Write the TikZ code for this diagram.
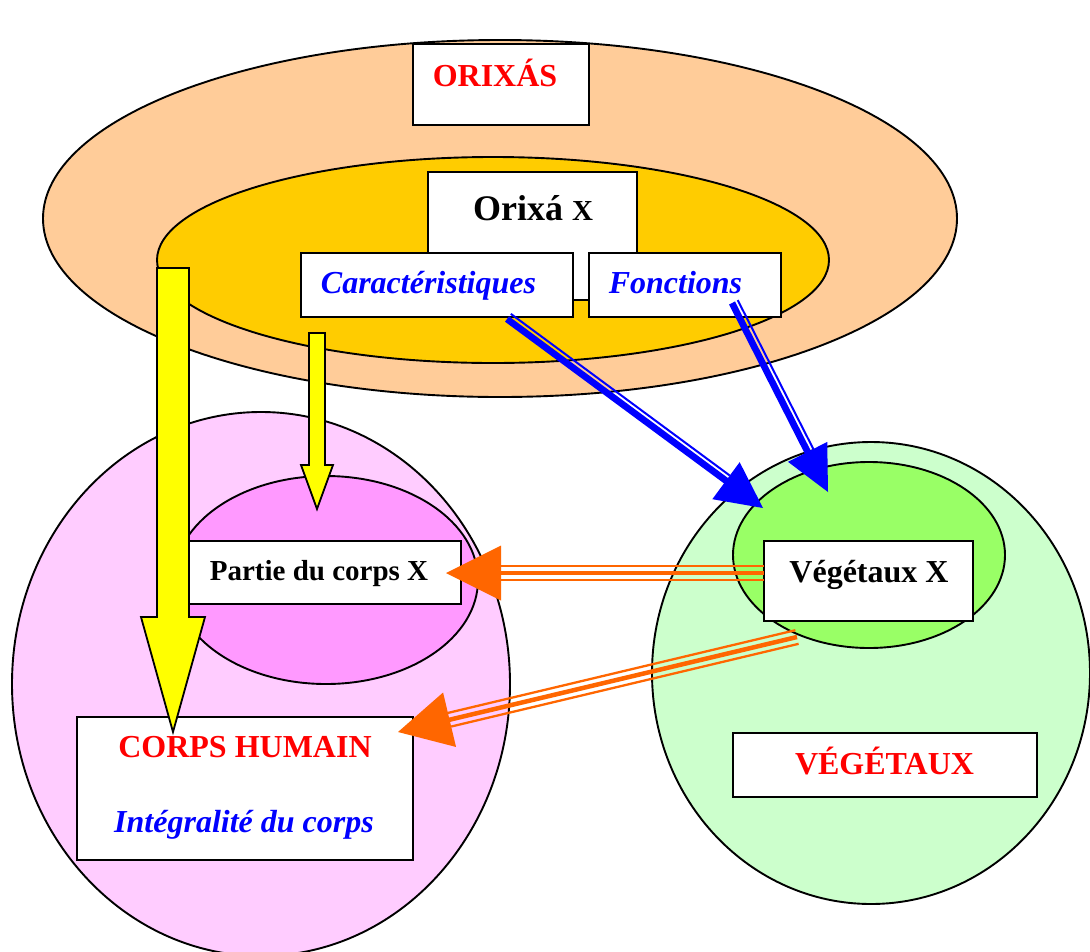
\documentclass[tikz,border=0pt]{standalone}
\usepackage{fontspec}
\setmainfont{Liberation Serif}
\usetikzlibrary{shapes.geometric,calc}
\definecolor{peach}{HTML}{FFCC99}
\definecolor{gold}{HTML}{FFCC00}
\definecolor{pinkbig}{HTML}{FFCCFF}
\definecolor{pinkin}{HTML}{FF99FF}
\definecolor{greenbig}{HTML}{CCFFCC}
\definecolor{greenin}{HTML}{99FF66}
\definecolor{yel}{HTML}{FFFF00}
\definecolor{bl}{HTML}{0000FF}
\definecolor{org}{HTML}{FF6600}
\definecolor{rd}{HTML}{FF0000}
\begin{document}
\begin{tikzpicture}[x=1pt,y=-1pt,
  ell/.style={ellipse, draw=black, line width=1.9pt, inner sep=0pt, outer sep=0pt},
  box/.style={rectangle, draw=black, line width=2.2pt, fill=white, inner sep=0pt, outer sep=0pt},
  txt/.style={anchor=base, inner sep=0pt, font=\bfseries\fontsize{32}{36}\selectfont},
  itxt/.style={txt, font=\bfseries\itshape\fontsize{32}{36}\selectfont, text=bl},
  yarr/.style={draw=black, fill=yel, line width=1.8pt, line join=miter},
  bluethick/.style={draw=bl, line width=6.7pt, line cap=butt},
  bluethin/.style={draw=bl, line width=2pt, line cap=butt},
  orgthick/.style={draw=org, line width=4.5pt, line cap=butt},
  orgthin/.style={draw=org, line width=2.3pt, line cap=butt}
]
\useasboundingbox (0,0) rectangle (1090,951);
\fill[white] (0,0) rectangle (1090,951);
\clip (0,0) rectangle (1090,951);

% ellipses (top)
\node[ell, fill=peach, minimum width=914pt, minimum height=357pt] (peach) at (500,218.5) {};
\node[ell, fill=gold, minimum width=672pt, minimum height=206pt] (goldell) at (493,260) {};

% top boxes
\node[box, minimum width=209pt, minimum height=128pt] (orixabox) at (532.5,236) {};
\node[box, minimum width=272pt, minimum height=64pt] (carbox) at (437,285) {};
\node[box, minimum width=192pt, minimum height=64pt] (fonbox) at (685,285) {};
\node[box, minimum width=176pt, minimum height=81pt] (orixasbox) at (501,84.5) {};

% lower ellipses
\node[ell, fill=pinkbig, minimum width=498pt, minimum height=544pt] (pinkbigell) at (261,684) {};
\node[ell, fill=pinkin, minimum width=304pt, minimum height=208pt] (pinkinell) at (326,580) {};
\node[ell, fill=greenbig, minimum width=438pt, minimum height=462pt] (greenbigell) at (871,673) {};
\node[ell, fill=greenin, minimum width=272pt, minimum height=186pt] (greeninell) at (869,555) {};

% lower boxes
\node[box, minimum width=273pt, minimum height=63pt] (partiebox) at (324.5,572.5) {};
\node[box, minimum width=209pt, minimum height=80pt] (vegxbox) at (868.5,581) {};
\node[box, minimum width=304pt, minimum height=64pt] (vegbox) at (885,765) {};
\node[box, minimum width=336pt, minimum height=143pt] (corpsbox) at (245,788.5) {};

% texts
\node[txt, text=rd] (orixast) at (495,86) {ORIXÁS};
\node[txt, font=\bfseries\fontsize{36}{40}\selectfont] (orixat) at (533,220) {Orixá {\fontsize{29}{32}\selectfont X}};
\node[itxt] (cart) at (428.5,293) {Caractéristiques};
\node[itxt] (font) at (675.5,293) {Fonctions};
\node[txt, font=\bfseries\fontsize{29}{32}\selectfont] (partiet) at (319,580) {Partie du corps X};
\node[txt] (vegxt) at (869,582) {Végétaux X};
\node[txt, text=rd] (vegt) at (884.5,774) {VÉGÉTAUX};
\node[txt, text=rd] (corpst) at (245,757) {CORPS HUMAIN};
\node[itxt] (integt) at (244,832) {Intégralité du corps};

% yellow arrows
\coordinate (y1s) at (173,268);
\coordinate (y1t) at (173,732);
\draw[yarr] ($(y1s)+(-16,0)$) -- ($(y1s)+(16,0)$) -- ($(y1t)+(16,-115)$) -- ($(y1t)+(32,-115)$)
  -- (y1t) -- ($(y1t)+(-32,-115)$) -- ($(y1t)+(-16,-115)$) -- cycle;
\coordinate (y2s) at (317,333);
\coordinate (y2t) at (317,509);
\draw[yarr] ($(y2s)+(-8,0)$) -- ($(y2s)+(8,0)$) -- ($(y2t)+(8,-44)$) -- ($(y2t)+(16,-44)$)
  -- (y2t) -- ($(y2t)+(-16,-44)$) -- ($(y2t)+(-8,-44)$) -- cycle;

% blue arrows
\coordinate (b1s) at (507,319);
\coordinate (b1t) at (763,508);
\coordinate (b1b) at ($(b1t)!46pt!(b1s)$);
\draw[bluethick] (b1s) -- ($(b1b)!-2pt!(b1s)$);
\draw[bluethin] ($(b1s)!6.4pt!90:(b1t)$) -- ($(b1b)!6.4pt!-90:(b1s)$);
\fill[bl] (b1t) -- ($(b1b)!23pt!90:(b1t)$) -- ($(b1b)!23pt!-90:(b1t)$) -- cycle;

\coordinate (b2s) at (732,303);
\coordinate (b2t) at (828,492);
\coordinate (b2b) at ($(b2t)!45pt!(b2s)$);
\draw[bluethick] (b2s) -- ($(b2b)!-2pt!(b2s)$);
\draw[bluethin] ($(b2s)!6.4pt!90:(b2t)$) -- ($(b2b)!6.4pt!-90:(b2s)$);
\fill[bl] (b2t) -- ($(b2b)!22pt!90:(b2t)$) -- ($(b2b)!22pt!-90:(b2t)$) -- cycle;

% orange arrows
\coordinate (o1s) at (764,573);
\coordinate (o1t) at (446,573);
\coordinate (o1b) at ($(o1t)!55pt!(o1s)$);
\draw[orgthick] (o1s) -- ($(o1b)!-2pt!(o1s)$);
\draw[orgthin] ($(o1s)!7pt!90:(o1t)$) -- ($(o1b)!7pt!-90:(o1s)$);
\draw[orgthin] ($(o1s)!7pt!-90:(o1t)$) -- ($(o1b)!7pt!90:(o1s)$);
\fill[org] (o1t) -- ($(o1b)!27.5pt!90:(o1t)$) -- ($(o1b)!27.5pt!-90:(o1t)$) -- cycle;

\coordinate (o2s) at (797,637);
\coordinate (o2t) at (398,732);
\coordinate (o2b) at ($(o2t)!53pt!(o2s)$);
\draw[orgthick] (o2s) -- ($(o2b)!-2pt!(o2s)$);
\draw[orgthin] ($(o2s)!7pt!90:(o2t)$) -- ($(o2b)!7pt!-90:(o2s)$);
\draw[orgthin] ($(o2s)!7pt!-90:(o2t)$) -- ($(o2b)!7pt!90:(o2s)$);
\fill[org] (o2t) -- ($(o2b)!28pt!90:(o2t)$) -- ($(o2b)!28pt!-90:(o2t)$) -- cycle;
\end{tikzpicture}
\end{document}
